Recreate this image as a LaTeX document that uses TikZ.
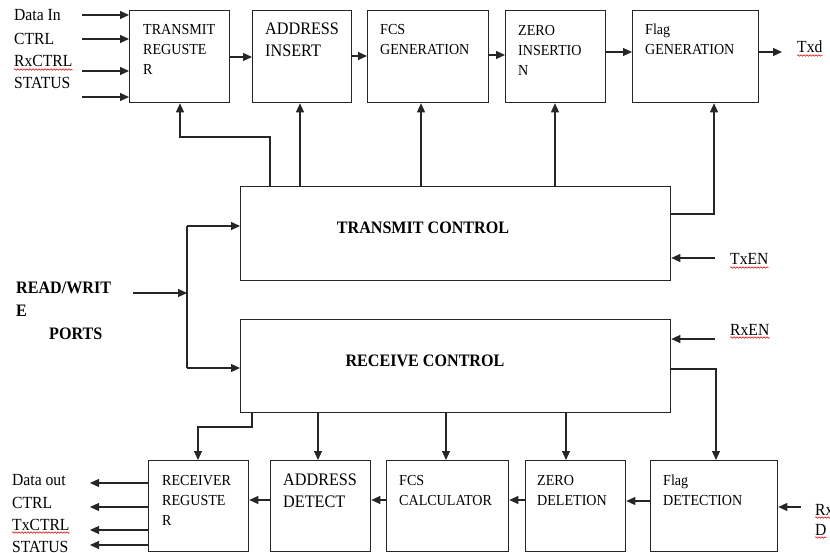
\documentclass[tikz,border=0pt]{standalone}
\usepackage{fontspec}
\setmainfont{Liberation Serif}[FakeStretch=0.92]
\usetikzlibrary{arrows.meta,decorations.pathmorphing,calc}

\begin{document}
\begin{tikzpicture}[x=1pt,y=-1pt,
  blk/.style={draw=black!85, line width=1.3pt, anchor=north west, inner sep=0pt},
  arr/.style={draw=black!85, line width=1.2pt, -{Triangle[length=9pt,width=8pt]}},
  wire/.style={draw=black!85, line width=1.2pt},
  % multi-line texts are placed by the baseline of their last line
  txt/.style={anchor=base west, inner sep=0pt, align=left, font=\fontsize{15.3}{20}\selectfont},
  bigtxt/.style={anchor=base west, inner sep=0pt, align=left, font=\fontsize{17.6}{22}\selectfont},
  lbl/.style={anchor=base west, inner sep=0pt, font=\fontsize{17}{20}\selectfont},
  bold/.style={inner sep=0pt, font=\fontsize{17.5}{22}\selectfont\bfseries},
  squig/.style={draw=red!85!black, line width=0.5pt, decorate,
    decoration={snake, amplitude=0.8pt, segment length=3pt}}
]
\useasboundingbox (0,0) rectangle (830,553);

% ---------- transmit path ----------
\node[blk, minimum width=100pt, minimum height=92pt] (tr) at (129,10) {};
\node[blk, minimum width=99pt,  minimum height=92pt] (ai) at (252,10) {};
\node[blk, minimum width=121pt, minimum height=92pt] (fg) at (367,10) {};
\node[blk, minimum width=100pt, minimum height=92pt] (zi) at (505,10) {};
\node[blk, minimum width=126pt, minimum height=92pt] (fl) at (632,10) {};

\node[txt]    (trT) at (143,75)  {TRANSMIT\\REGUSTE\\R};
\node[bigtxt] (aiT) at (265,57)  {ADDRESS\\INSERT};
\node[txt]    (fgT) at (380,55)  {FCS\\GENERATION};
\node[txt]    (ziT) at (518,76)  {ZERO\\INSERTIO\\N};
\node[txt]    (flT) at (645,55)  {Flag\\GENERATION};

% inputs
\node[lbl] (dIn)   at (14,21) {Data In};
\node[lbl] (cIn)   at (14,45) {CTRL};
\node[lbl] (rxc)   at (14,67) {RxCTRL};
\node[lbl] (stIn)  at (14,89) {STATUS};
\coordinate (i1) at (82,15);
\coordinate (i2) at (82,39);
\coordinate (i3) at (82,71);
\coordinate (i4) at (82,97);
\foreach \c in {i1,i2,i3,i4} \draw[arr] (\c) -- (\c -| tr.west);

% chain
\draw[arr] (tr.east |- 0,57) -- (ai.west |- 0,57);
\draw[arr] (ai.east |- 0,56) -- (fg.west |- 0,56);
\draw[arr] (fg.east |- 0,55) -- (zi.west |- 0,55);
\draw[arr] (zi.east |- 0,52) -- (fl.west |- 0,52);
\coordinate (txd) at (782,52);
\draw[arr] (fl.east |- txd) -- (txd);
\node[lbl] (txdT) at (797,53) {Txd};

% transmit control
\node[blk, minimum width=430pt, minimum height=94pt] (tc) at (240,186) {};
\node[bold] (tcT) at (423,228) {TRANSMIT CONTROL};

\draw[arr] (tc.north -| 270,0) |- (180,137) -- (tr.south -| 180,0);
\draw[arr] (tc.north -| 300,0) -- (ai.south -| 300,0);
\draw[arr] (tc.north -| 421,0) -- (fg.south -| 421,0);
\draw[arr] (tc.north -| 555,0) -- (zi.south -| 555,0);
\draw[arr] (tc.east |- 0,214) -| (fl.south -| 714,0);

\coordinate (txen) at (715,258);
\draw[arr] (txen) -- (txen -| tc.east);
\node[lbl] (txenT) at (730,265) {TxEN};

% read / write ports
\node[anchor=base west, inner sep=0pt, font=\fontsize{17.5}{22}\selectfont\bfseries] (rw1) at (16,294) {READ/WRIT};
\node[anchor=base west, inner sep=0pt, font=\fontsize{17.5}{22}\selectfont\bfseries] (rw2) at (16,317) {E};
\node[anchor=base west, inner sep=0pt, font=\fontsize{17.5}{22}\selectfont\bfseries] (rw3) at (49,340) {PORTS};
\coordinate (rwin) at (133,293);
\coordinate (busT) at (187,226);
\coordinate (busB) at (187,368);
\draw[wire] (busT) -- (busB);
\draw[arr] (rwin) -- (rwin -| busT);
\draw[arr] (busT) -- (busT -| tc.west);

% receive control
\node[blk, minimum width=430pt, minimum height=93pt] (rc) at (240,319) {};
\node[bold] (rcT) at (425,361) {RECEIVE CONTROL};
\draw[arr] (busB) -- (busB -| rc.west);

\coordinate (rxen) at (715,339);
\draw[arr] (rxen) -- (rxen -| rc.east);
\node[lbl] (rxenT) at (730,335) {RxEN};

% ---------- receive path ----------
\node[blk, minimum width=100pt, minimum height=91pt] (rr) at (148,460) {};
\node[blk, minimum width=100pt, minimum height=91pt] (ad) at (270,460) {};
\node[blk, minimum width=122pt, minimum height=91pt] (fc) at (386,460) {};
\node[blk, minimum width=100pt, minimum height=91pt] (zd) at (525,460) {};
\node[blk, minimum width=127pt, minimum height=91pt] (fd) at (650,460) {};

\node[txt]    (rrT) at (162,525) {RECEIVER\\REGUSTE\\R};
\node[bigtxt] (adT) at (283,507) {ADDRESS\\DETECT};
\node[txt]    (fcT) at (399,505) {FCS\\CALCULATOR};
\node[txt]    (zdT) at (537,505) {ZERO\\DELETION};
\node[txt]    (fdT) at (663,505) {Flag\\DETECTION};

\draw[arr] (rc.south -| 252,0) |- (198,427) -- (rr.north -| 198,0);
\draw[arr] (rc.south -| 318,0) -- (ad.north -| 318,0);
\draw[arr] (rc.south -| 446,0) -- (fc.north -| 446,0);
\draw[arr] (rc.south -| 566,0) -- (zd.north -| 566,0);
\draw[arr] (rc.east |- 0,369) -| (fd.north -| 716,0);

\draw[arr] (fd.west |- 0,501) -- (zd.east |- 0,501);
\draw[arr] (zd.west |- 0,500) -- (fc.east |- 0,500);
\draw[arr] (fc.west |- 0,500) -- (ad.east |- 0,500);
\draw[arr] (ad.west |- 0,500) -- (rr.east |- 0,500);

\coordinate (rxd) at (801,507);
\draw[arr] (rxd) -- (rxd -| fd.east);
\node[lbl] (rxdA) at (815,515) {Rx};
\node[lbl] (rxdB) at (815,535) {D};

% outputs
\coordinate (o1) at (90,483);
\coordinate (o2) at (90,507);
\coordinate (o3) at (90,530);
\coordinate (o4) at (90,545);
\foreach \c in {o1,o2,o3,o4} \draw[arr] (\c -| rr.west) -- (\c);
\node[lbl] (dOut) at (12,485) {Data out};
\node[lbl] (cOut) at (12,508) {CTRL};
\node[lbl] (txc)  at (12,530) {TxCTRL};
\node[lbl] (stOut) at (12,552) {STATUS};

% spelling marks under some labels
\foreach \n in {rxc,txdT,txenT,rxenT,txc,rxdA,rxdB}
  \draw[squig] ($(\n.base west)+(0,2.5)$) -- ($(\n.base east)+(0,2.5)$);
\end{tikzpicture}
\end{document}
